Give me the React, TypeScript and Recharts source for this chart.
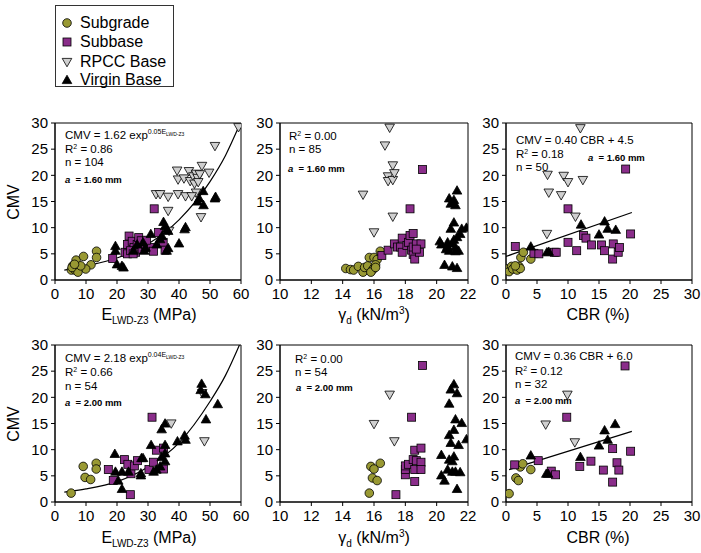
import React from 'react';
import { ComposedChart, Scatter, Line, XAxis, YAxis, ReferenceArea } from 'recharts';

type XY = [number, number];

const FONT = '"Liberation Sans", Arial, sans-serif';
const OLIVE = '#999933';
const PURPLE = '#8a2d8a';
const GREY = '#cfcfcf';

const cmvTicks = [0, 5, 10, 15, 20, 25, 30];
const lwdTicks = [0, 10, 20, 30, 40, 50, 60];
const gdTicks = [10, 12, 14, 16, 18, 20, 22];
const cbrTicks = [0, 5, 10, 15, 20, 25, 30];

// a = 1.60 mm, E_LWD-Z3
const lwd160Subgrade: XY[] = [[6.8, 3.8], [9.2, 4.5], [13.4, 5.5], [13.4, 4.3], [11.6, 2.9], [9.9, 2.1], [7.6, 2.4], [5.7, 2.7], [5.3, 1.9], [6.5, 1.9], [7.4, 1.5], [5.5, 2.4], [8.3, 2.7], [6.3, 3.0]];
const lwd160Subbase: XY[] = [[18.6, 4.1], [22.6, 5.3], [23.4, 5.0], [23.9, 8.4], [23.4, 6.8], [24.9, 7.4], [25.5, 6.2], [24.4, 5.6], [26, 5.3], [26.5, 6.8], [27, 8.1], [27.8, 7.5], [28.1, 5.9], [29.2, 6.8], [30.7, 6.2], [31.8, 5.5], [32, 13.6], [33.4, 9.1], [34.9, 7.2], [35.5, 5.7], [25.2, 5.0], [29.5, 7.6]];
const lwd160Rpcc: XY[] = [[32.6, 16.4], [33.9, 16.4], [36.5, 15.9], [36.5, 13.2], [36.8, 9.4], [39.4, 20.9], [39.7, 19.2], [39.7, 16.4], [41.6, 19.4], [42.1, 16.0], [43.2, 20.8], [43.6, 18.9], [44.6, 19.8], [45, 18.4], [45.5, 20.3], [46, 19.5], [46.2, 18.7], [46.7, 20.2], [45.5, 16.7], [47.4, 21.8], [47.1, 12.0], [49.7, 20.5], [51.6, 25.6], [59.2, 29.2], [44.1, 16.0]];
const lwd160Virgin: XY[] = [[19.5, 6.5], [19.5, 5.6], [20, 3.0], [21.6, 2.7], [22.1, 2.4], [25.3, 5.6], [26.5, 6.8], [28.4, 7.2], [29.2, 6.2], [30.9, 8.8], [32.8, 6.8], [33.9, 7.8], [35, 11.1], [35.5, 10.3], [36, 9.7], [36, 5.6], [36.5, 6.1], [36.5, 9.4], [40, 7.0], [41.8, 9.7], [42.1, 10.1], [46, 15], [46.5, 15.6], [47.9, 14.3], [47.8, 17], [51.6, 15.6], [51.8, 15.9], [28.8, 5.6], [34.5, 8.4]];
const lwd160Fit: XY[] = [[3, 1.9], [10, 2.7], [20, 4.2], [30, 6.9], [40, 11.5], [50, 18.8], [55, 23.8], [59.5, 29.6]];

// a = 1.60 mm, dry unit weight
const gd160Subgrade: XY[] = [[14.2, 2.2], [14.5, 2.0], [14.7, 1.9], [15.0, 2.6], [15.3, 1.5], [15.4, 2.4], [15.6, 2.7], [15.7, 4.3], [15.9, 1.9], [16.0, 2.3], [15.8, 1.5], [16.0, 4.3], [16.2, 3.9], [16.1, 2.9], [16.1, 2.4], [16.4, 5.5]];
const gd160Subbase: XY[] = [[16.5, 4.7], [16.9, 5.7], [17.3, 6.9], [17.5, 6.3], [17.7, 6.3], [17.8, 8.0], [17.8, 5.3], [18.1, 6.6], [18.2, 7.2], [18.3, 13.6], [18.3, 8.5], [18.4, 5.7], [18.5, 4.9], [18.5, 8.9], [18.5, 6.3], [18.6, 4.0], [18.7, 6.9], [18.9, 5.3], [19.0, 6.9], [19.1, 21.1], [18.7, 5.9]];
const gd160Rpcc: XY[] = [[15.3, 16.3], [16.0, 9.1], [16.7, 25.7], [17.0, 29.1], [16.9, 19.8], [16.9, 18.9], [17.2, 21.9], [17.2, 19.1], [17.3, 20.4], [17.2, 12.1]];
const gd160Virgin: XY[] = [[20.2, 7.4], [20.3, 6.8], [20.5, 2.9], [20.7, 6.4], [20.8, 5.6], [20.8, 15.6], [20.9, 14.6], [20.9, 9.8], [21.0, 7.0], [21.0, 2.6], [21.1, 15.3], [21.1, 7.7], [21.1, 11.0], [21.2, 5.5], [21.2, 14.3], [21.3, 17.1], [21.3, 2.3], [21.3, 8.2], [21.4, 5.6], [21.5, 8.8], [21.6, 9.8], [21.9, 10.0], [20.6, 5.9], [20.7, 7.2], [21.2, 6.3]];

// a = 1.60 mm, CBR
const cbr160Subgrade: XY[] = [[0.2, 2.1], [0.5, 1.6], [0.9, 2.6], [1.1, 2.1], [1.8, 1.9], [2.1, 2.6], [2.3, 2.2], [2.4, 4.3], [2.8, 5.3], [4.0, 4.0], [1.5, 2.7]];
const cbr160Subbase: XY[] = [[1.5, 6.4], [4.5, 5.1], [5.3, 5.0], [7.8, 5.3], [8.1, 5.3], [10.0, 13.6], [10.0, 7.2], [11.4, 5.6], [12.5, 8.5], [12.9, 8.0], [13.8, 6.7], [15.4, 6.7], [15.9, 5.6], [17.2, 4.0], [17.3, 6.9], [18.1, 5.3], [18.3, 6.2], [19.3, 21.2], [20.1, 8.8]];
const cbr160Rpcc: XY[] = [[6.6, 8.8], [6.7, 20.1], [6.9, 16.7], [9.3, 19.9], [10.0, 18.7], [8.9, 16.2], [11.2, 12.1], [12.4, 19.1], [12.0, 29.0]];
const cbr160Virgin: XY[] = [[4.0, 6.4], [6.6, 5.3], [6.9, 5.4], [12.1, 10.6], [15.0, 8.7], [15.9, 11.2], [16.4, 9.8], [17.7, 9.6]];
const cbr160Fit: XY[] = [[0, 4.5], [20.3, 12.9]];

// a = 2.00 mm, E_LWD-Z3
const lwd200Subgrade: XY[] = [[5.2, 1.7], [9.1, 6.8], [9.7, 4.7], [11.5, 4.3], [13.3, 7.4], [13.3, 6.3]];
const lwd200Subbase: XY[] = [[17.2, 6.2], [18.8, 4.1], [22.4, 8.1], [23.5, 7.2], [24.5, 5.4], [24.3, 1.4], [25.6, 6.9], [26.6, 7.9], [31.3, 16.2], [30.3, 6.2], [31.8, 7.6], [32.7, 9.9], [35, 10.3], [35, 6.3]];
const lwd200Rpcc: XY[] = [[47.5, 20.8], [37.5, 15.0], [48.2, 11.6]];
const lwd200Virgin: XY[] = [[19.3, 9.2], [19.5, 5.8], [20.4, 4.1], [21.6, 5.8], [21.6, 2.5], [23.7, 5.8], [27.7, 5.5], [27.9, 8.4], [28.4, 8.4], [27.7, 5.1], [31.0, 10.9], [31.8, 5.8], [32.7, 6.2], [33.9, 6.8], [34.4, 13.9], [34.4, 8.6], [35.5, 15.0], [35.5, 10.9], [35.5, 7.8], [35.5, 9.3], [39.5, 11.6], [41.8, 12.7], [42.1, 11.9], [47.0, 21.4], [47.3, 22.6], [48.5, 20.6], [48.7, 15.8], [52.5, 18.7]];
const lwd200Fit: XY[] = [[3, 1.9], [10, 2.5], [20, 3.9], [30, 6.7], [40, 11.3], [50, 19.2], [55, 24.2], [59.5, 30]];

// a = 2.00 mm, dry unit weight
const gd200Subgrade: XY[] = [[15.7, 1.7], [15.8, 6.8], [15.9, 4.6], [16.0, 6.3], [16.2, 4.1], [16.4, 7.4]];
const gd200Subbase: XY[] = [[17.4, 1.4], [18.0, 5.2], [18.0, 6.2], [18.0, 6.9], [18.2, 7.2], [18.4, 16.2], [18.5, 8.1], [18.6, 6.2], [18.6, 9.9], [18.6, 3.9], [18.7, 7.9], [19.0, 10.3], [19.0, 7.6], [19.0, 6.2], [19.1, 26.1]];
const gd200Rpcc: XY[] = [[16.0, 14.9], [17.0, 20.5], [17.3, 11.6]];
const gd200Virgin: XY[] = [[20.3, 9.0], [20.3, 5.1], [20.5, 4.1], [20.7, 6.2], [20.8, 8.1], [20.8, 12.8], [20.8, 18.8], [20.9, 21.5], [20.9, 11.3], [21.0, 5.8], [21.0, 7.8], [21.1, 22.5], [21.1, 8.7], [21.1, 13.8], [21.2, 5.8], [21.2, 15.8], [21.3, 20.8], [21.3, 2.5], [21.4, 10.9], [21.5, 5.7], [21.6, 15.1], [21.9, 12.0]];

// a = 2.00 mm, CBR
const cbr200Subgrade: XY[] = [[0.5, 1.6], [1.6, 4.6], [2.0, 4.1], [2.3, 6.7], [2.7, 7.3], [4.0, 6.2]];
const cbr200Subbase: XY[] = [[1.4, 7.1], [5.2, 7.9], [7.3, 5.9], [8.0, 5.2], [9.8, 16.2], [11.9, 6.8], [13.7, 7.8], [15.7, 6.1], [17.2, 10.2], [17.2, 3.8], [17.9, 7.5], [18.2, 6.1], [19.2, 26.0], [20.1, 9.7]];
const cbr200Rpcc: XY[] = [[6.4, 14.8], [9.9, 20.5], [11.1, 11.4]];
const cbr200Virgin: XY[] = [[4.0, 8.9], [6.5, 5.4], [6.8, 5.4], [12.0, 8.6], [15.0, 10.8], [15.9, 13.7], [16.4, 11.9], [17.6, 14.9]];
const cbr200Fit: XY[] = [[0.5, 6.2], [20.3, 13.5]];

const toPts = (a: XY[]) => a.map(([x, y]) => ({ x, y }));

const circleShape = (p: any) => <circle cx={p.cx} cy={p.cy} r={4.3} fill={OLIVE} stroke="#000" strokeWidth={0.8} />;
const squareShape = (p: any) => <rect x={p.cx - 4} y={p.cy - 4} width={8} height={8} fill={PURPLE} stroke="#000" strokeWidth={0.8} />;
const downShape = (p: any) => (
  <polygon points={`${p.cx - 4.8},${p.cy - 3.6} ${p.cx + 4.8},${p.cy - 3.6} ${p.cx},${p.cy + 4.8}`} fill={GREY} stroke="#000" strokeWidth={0.8} />
);
const upShape = (p: any) => (
  <polygon points={`${p.cx},${p.cy - 4.8} ${p.cx + 4.8},${p.cy + 3.6} ${p.cx - 4.8},${p.cy + 3.6}`} fill="#000" stroke="#000" strokeWidth={0.8} />
);

interface PanelProps {
  left: number;
  top: number;
  w: number;
  h: number;
  xDomain: [number, number];
  xTicks: number[];
  subgrade: XY[];
  subbase: XY[];
  rpcc: XY[];
  virgin: XY[];
  fit?: XY[];
  smooth?: boolean;
}

function Panel(p: PanelProps) {
  const YW = 34, MR = 14, MT = 8, XH = 30;
  const tick = { fill: '#000', fontSize: 15, fontFamily: FONT };
  return (
    <div style={{ position: 'absolute', left: p.left - YW, top: p.top - MT }}>
      <ComposedChart width={p.w + YW + MR} height={p.h + MT + XH} margin={{ top: MT, right: MR, bottom: 0, left: 0 }}>
        <XAxis type="number" dataKey="x" domain={p.xDomain} ticks={p.xTicks} interval={0} allowDataOverflow height={XH}
          stroke="#000" tickSize={4} tickMargin={4} tick={tick} />
        <YAxis type="number" dataKey="y" domain={[0, 30]} ticks={cmvTicks} interval={0} allowDataOverflow width={YW}
          stroke="#000" tickSize={4} tickMargin={3} tick={tick} />
        <ReferenceArea x1={p.xDomain[0]} x2={p.xDomain[1]} y1={0} y2={30} fill="none" stroke="#000" strokeWidth={1} ifOverflow="visible" />
        <Scatter data={toPts(p.subgrade)} shape={circleShape} isAnimationActive={false} />
        <Scatter data={toPts(p.subbase)} shape={squareShape} isAnimationActive={false} />
        <Scatter data={toPts(p.rpcc)} shape={downShape} isAnimationActive={false} />
        <Scatter data={toPts(p.virgin)} shape={upShape} isAnimationActive={false} />
        {p.fit && (
          <Line data={toPts(p.fit)} dataKey="y" type={p.smooth ? 'monotone' : 'linear'} dot={false} activeDot={false}
            stroke="#000" strokeWidth={1.2} isAnimationActive={false} />
        )}
      </ComposedChart>
    </div>
  );
}

function Note({ x, y, size = 11.5, bold = false, children }: { x: number; y: number; size?: number; bold?: boolean; children: React.ReactNode }) {
  return (
    <div style={{ position: 'absolute', left: x, top: y - size * 0.55, fontSize: size, lineHeight: 1, fontWeight: bold ? 700 : 400, whiteSpace: 'nowrap' }}>
      {children}
    </div>
  );
}

const Amp = ({ v }: { v: string }) => (
  <>
    <i>a</i>&nbsp; = {v} mm
  </>
);

const ExpSup = ({ c }: { c: string }) => (
  <sup style={{ fontSize: 7, verticalAlign: 0, position: 'relative', top: -5 }}>
    {c}E<sub style={{ fontSize: 5, verticalAlign: 0, position: 'relative', top: 2 }}>LWD-Z3</sub>
  </sup>
);

const R2 = ({ v }: { v: string }) => (
  <>
    R<sup style={{ fontSize: 7, verticalAlign: 0, position: 'relative', top: -4 }}>2</sup> = {v}
  </>
);

function AxisTitle({ cx, cy, children }: { cx: number; cy: number; children: React.ReactNode }) {
  return (
    <div style={{ position: 'absolute', left: cx - 100, top: cy - 9, width: 200, textAlign: 'center', fontSize: 16, lineHeight: '18px', whiteSpace: 'nowrap' }}>
      {children}
    </div>
  );
}

const LwdTitle = () => (
  <>
    E<sub style={{ fontSize: 10, verticalAlign: 0, position: 'relative', top: 4 }}>LWD-Z3</sub> (MPa)
  </>
);
const GdTitle = () => (
  <>
    γ<sub style={{ fontSize: 10, verticalAlign: 0, position: 'relative', top: 4 }}>d</sub> (kN/m<sup style={{ fontSize: 10, verticalAlign: 0, position: 'relative', top: -6 }}>3</sup>)
  </>
);

function CmvTitle({ cy }: { cy: number }) {
  return (
    <div style={{ position: 'absolute', left: 14 - 30, top: cy - 9, width: 60, textAlign: 'center', fontSize: 16, lineHeight: '18px', transform: 'rotate(-90deg)' }}>
      CMV
    </div>
  );
}

function LegendRow({ cy, kind, label }: { cy: number; kind: string; label: string }) {
  const c = 6;
  let mark: React.ReactNode = null;
  if (kind === 'circle') mark = circleShape({ cx: c, cy: c });
  if (kind === 'square') mark = squareShape({ cx: c, cy: c });
  if (kind === 'down') mark = downShape({ cx: c, cy: c });
  if (kind === 'up') mark = upShape({ cx: c, cy: c });
  return (
    <>
      <svg width={12} height={12} style={{ position: 'absolute', left: 61, top: cy - 6 }}>{mark}</svg>
      <div style={{ position: 'absolute', left: 80, top: cy - 9, fontSize: 16, lineHeight: '18px' }}>{label}</div>
    </>
  );
}

export default function App() {
  return (
    <div style={{ position: 'absolute', left: 0, top: 0, width: 701, height: 553, background: '#fff', fontFamily: FONT, color: '#000', overflow: 'hidden' }}>
      <div style={{ position: 'absolute', left: 55, top: 5, width: 117, height: 80, border: '1px solid #333' }} />
      <LegendRow cy={23} kind="circle" label="Subgrade" />
      <LegendRow cy={42} kind="square" label="Subbase" />
      <LegendRow cy={62} kind="down" label="RPCC Base" />
      <LegendRow cy={80} kind="up" label="Virgin Base" />

      <Panel left={55} top={123} w={186} h={157} xDomain={[0, 60]} xTicks={lwdTicks}
        subgrade={lwd160Subgrade} subbase={lwd160Subbase} rpcc={lwd160Rpcc} virgin={lwd160Virgin} fit={lwd160Fit} smooth />
      <Panel left={280} top={123} w={188} h={157} xDomain={[10, 22]} xTicks={gdTicks}
        subgrade={gd160Subgrade} subbase={gd160Subbase} rpcc={gd160Rpcc} virgin={gd160Virgin} />
      <Panel left={506} top={123} w={186} h={157} xDomain={[0, 30]} xTicks={cbrTicks}
        subgrade={cbr160Subgrade} subbase={cbr160Subbase} rpcc={cbr160Rpcc} virgin={cbr160Virgin} fit={cbr160Fit} />
      <Panel left={55} top={345} w={186} h={157} xDomain={[0, 60]} xTicks={lwdTicks}
        subgrade={lwd200Subgrade} subbase={lwd200Subbase} rpcc={lwd200Rpcc} virgin={lwd200Virgin} fit={lwd200Fit} smooth />
      <Panel left={280} top={345} w={188} h={157} xDomain={[10, 22]} xTicks={gdTicks}
        subgrade={gd200Subgrade} subbase={gd200Subbase} rpcc={gd200Rpcc} virgin={gd200Virgin} />
      <Panel left={506} top={345} w={186} h={157} xDomain={[0, 30]} xTicks={cbrTicks}
        subgrade={cbr200Subgrade} subbase={cbr200Subbase} rpcc={cbr200Rpcc} virgin={cbr200Virgin} fit={cbr200Fit} />

      <Note x={65} y={136}>CMV = 1.62 exp<ExpSup c="0.05" /></Note>
      <Note x={65} y={150}><R2 v="0.86" /></Note>
      <Note x={65} y={163}>n = 104</Note>
      <Note x={65} y={180} size={9.5} bold><Amp v="1.60" /></Note>

      <Note x={289} y={137}><R2 v="0.00" /></Note>
      <Note x={289} y={150}>n = 85</Note>
      <Note x={288} y={169} size={9.5} bold><Amp v="1.60" /></Note>

      <Note x={516} y={141}>CMV = 0.40 CBR + 4.5</Note>
      <Note x={516} y={155}><R2 v="0.18" /></Note>
      <Note x={516} y={168}>n = 50</Note>
      <Note x={588} y={158} size={9.5} bold><Amp v="1.60" /></Note>

      <Note x={65} y={359}>CMV = 2.18 exp<ExpSup c="0.04" /></Note>
      <Note x={65} y={373}><R2 v="0.66" /></Note>
      <Note x={65} y={387}>n = 54</Note>
      <Note x={65} y={403} size={9.5} bold><Amp v="2.00" /></Note>

      <Note x={295} y={360}><R2 v="0.00" /></Note>
      <Note x={295} y={373}>n = 54</Note>
      <Note x={296} y={388} size={9.5} bold><Amp v="2.00" /></Note>

      <Note x={515} y={357}>CMV = 0.36 CBR + 6.0</Note>
      <Note x={515} y={372}><R2 v="0.12" /></Note>
      <Note x={515} y={385}>n = 32</Note>
      <Note x={515} y={401} size={9.5} bold><Amp v="2.00" /></Note>

      <CmvTitle cy={202} />
      <CmvTitle cy={424} />
      <AxisTitle cx={149} cy={315}><LwdTitle /></AxisTitle>
      <AxisTitle cx={374} cy={315}><GdTitle /></AxisTitle>
      <AxisTitle cx={598} cy={315}>CBR (%)</AxisTitle>
      <AxisTitle cx={149} cy={538}><LwdTitle /></AxisTitle>
      <AxisTitle cx={374} cy={538}><GdTitle /></AxisTitle>
      <AxisTitle cx={598} cy={538}>CBR (%)</AxisTitle>
    </div>
  );
}
